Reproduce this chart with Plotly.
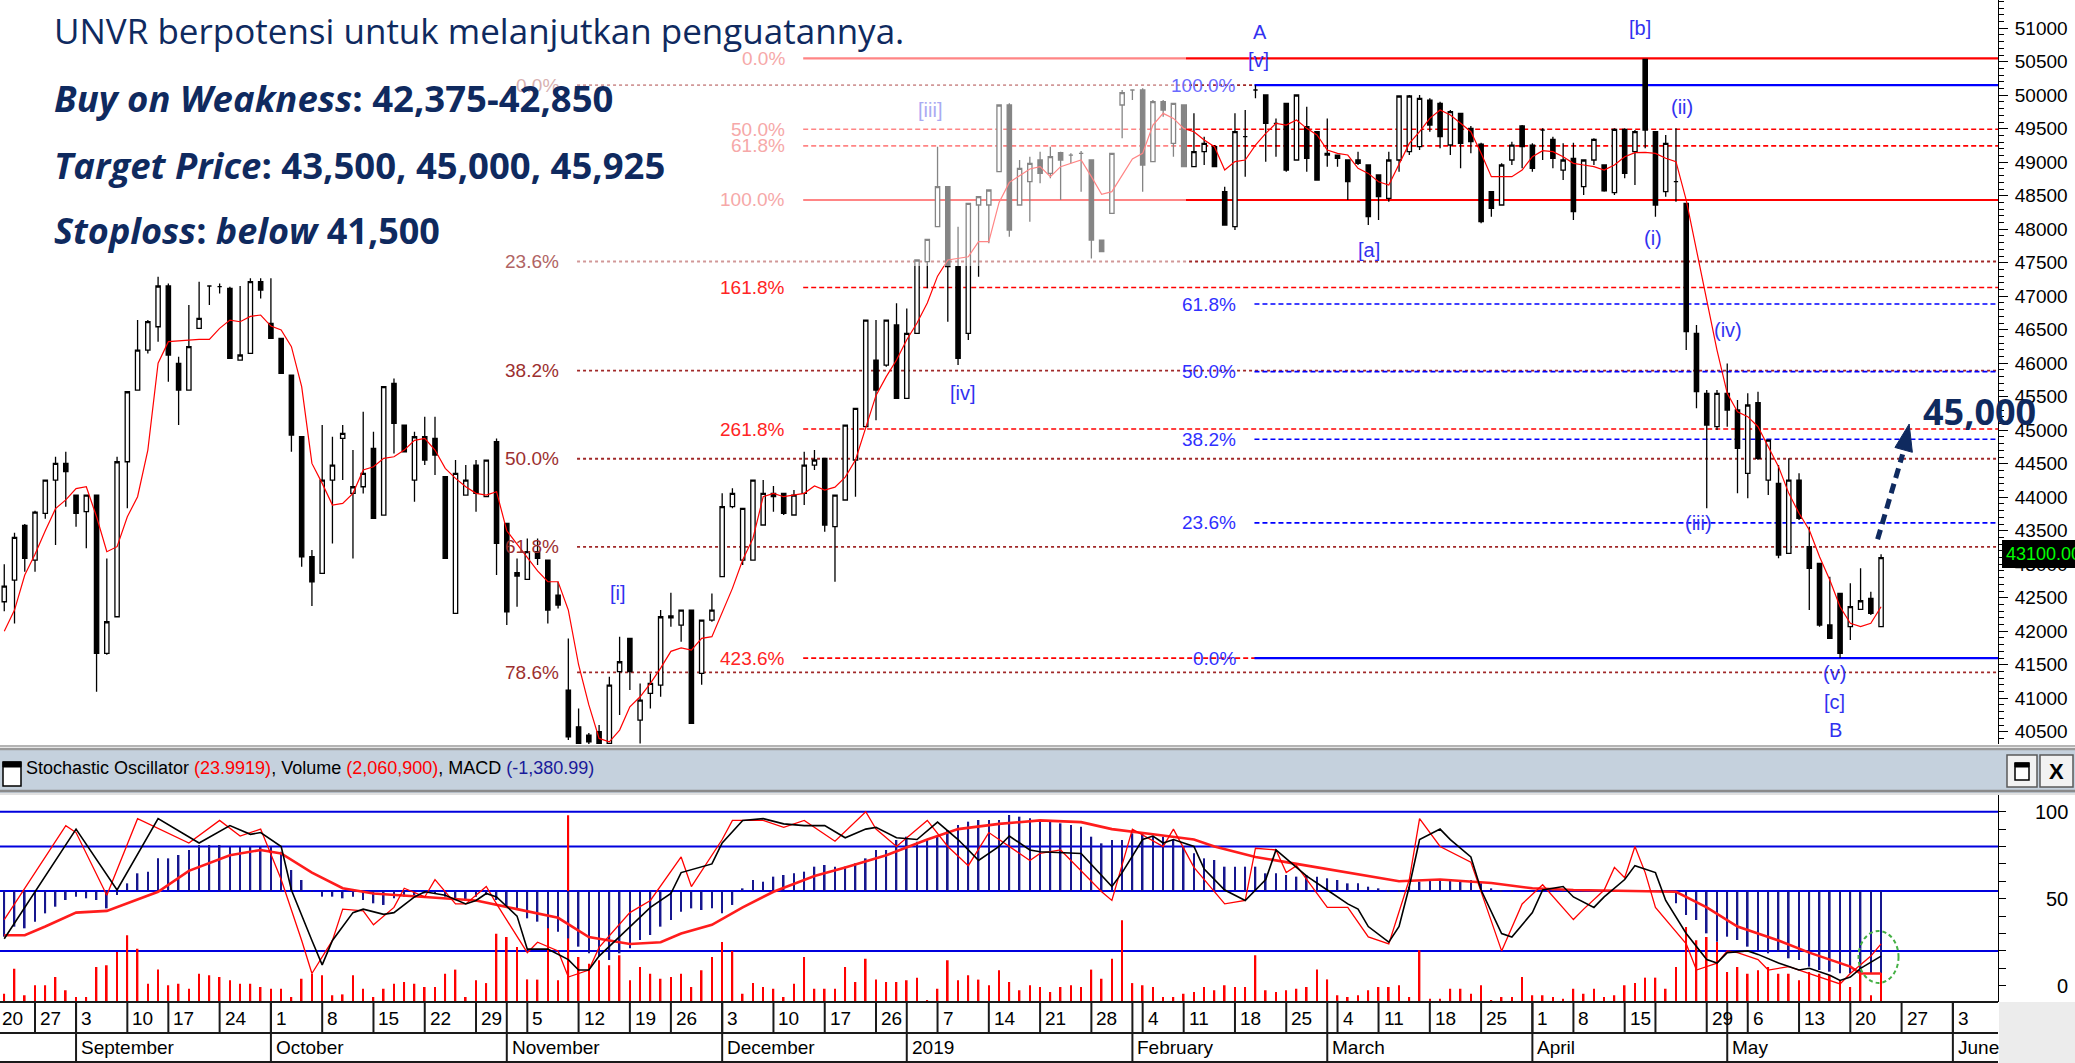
import plotly.graph_objects as go

W, H = 2075, 1063
def fx(px): return px / W
def fy(py): return 1 - py / H

NAVY = "#0f2a5f"
NARROW = "Liberation Sans Narrow, Arial Narrow, Liberation Sans, Arial"
SANS = "Liberation Sans, Arial"
TXT = "Open Sans, Noto Sans, sans-serif"

# ---------------- data (trading-day index 1..184) ----------------
days = list(range(1, 185))
opens = [42440, 42764, 43580, 43062, 43759, 44256, 44505, 44033, 43784, 44033,
         41669, 42216, 44530, 45600, 46197, 46545, 47153, 45998, 45600, 46520,
         47153, 47143, 47118, 46048, 46148, 47217, 46595, 46371, 45824, 44903,
         43112, 42864, 44256, 44878, 44057, 44157, 44729, 43734, 45700, 45078,
         44256, 44903, 44878, 44306, 42266, 44033, 44480, 44008, 44829, 43610,
         42873, 42774, 43187, 43062, 42540, 41122, 40574, 40450, 40500, 40325,
         41396, 41893, 40674, 41072, 41196, 42200, 42092, 42316, 41371, 42167,
         42814, 43859, 43063, 43063, 43586, 44058, 44058, 43735, 44058, 44481,
         44581, 43561, 43959, 44556, 45053, 46048, 45973, 46571, 45476, 46446,
         47516, 48038, 48635, 47441, 46446, 48362, 48362, 48859, 49855, 48362,
         48710, 49034, 48835, 49143, 49108, 49133, 49034, 47839, 48237, 49855,
         50079, 50079, 49009, 49904, 49282, 49855, 48934, 49158, 49233, 48561,
         48038, 49382, 50079, 50004, 49581, 49880, 49034, 49531, 49456, 49133,
         49108, 49034, 49034, 48959, 48810, 48461, 49034, 49158, 49233, 49929,
         49880, 49258, 49730, 49506, 49272, 48561, 48362, 49034, 49541, 49257,
         49481, 49342, 48884, 49059, 48635, 49034, 48959, 48546, 49491, 49158,
         50537, 49456, 48561, 48710, 48387, 46446, 45551, 45053, 45551, 45302,
         44357, 45412, 44257, 44207, 43163, 44257, 43262, 43013, 42093, 42565,
         42068, 42326, 42491, 42068]
highs = [43000, 43470, 43600, 43800, 44260, 44605, 44680, 44040, 44040, 44040,
         43087, 44605, 45575, 46645, 46645, 47292, 47192, 46098, 46869, 47217,
         47153, 47192, 47143, 47153, 47267, 47267, 47267, 46371, 45824, 44903,
         43212, 45078, 44903, 45078, 44704, 45277, 44978, 45650, 45774, 45078,
         44978, 45202, 45202, 44306, 44555, 44480, 44555, 44555, 44878, 43610,
         43087, 43386, 43386, 43062, 42739, 41893, 40848, 40480, 40600, 41320,
         41918, 41893, 41221, 41370, 42316, 42575, 42316, 42316, 42167, 42565,
         44058, 44133, 43834, 44257, 44257, 44168, 44058, 44108, 44680, 44705,
         44581, 44033, 45078, 45327, 46645, 46645, 46645, 46894, 46819, 47541,
         47849, 49233, 48635, 48038, 48386, 48486, 48586, 49855, 49880, 49034,
         49083, 49158, 49233, 49158, 49133, 49170, 49034, 47839, 49133, 50079,
         50079, 50103, 49929, 49929, 49880, 49855, 49730, 49382, 49258, 48635,
         49730, 49780, 50150, 50004, 49655, 49880, 50004, 49830, 49456, 49655,
         49108, 49034, 49158, 48959, 48810, 49158, 49989, 50004, 50004, 49954,
         49905, 49780, 49730, 49541, 49292, 48561, 48984, 49307, 49556, 49282,
         49506, 49382, 49282, 49292, 49043, 49357, 48959, 49506, 49506, 49481,
         50537, 49456, 49407, 49506, 48387, 46570, 45600, 45600, 45998, 45451,
         45551, 45576, 44854, 44481, 44581, 44357, 43561, 43013, 42814, 42565,
         42715, 42939, 42590, 43150]
lows = [42300, 42117, 42888, 42888, 43680, 43286, 43858, 43560, 43237, 41097,
        41650, 42216, 43834, 45600, 46147, 46322, 45724, 45078, 45600, 46520,
        46869, 47043, 46073, 46048, 46148, 46968, 46371, 45849, 44679, 42963,
        42376, 42864, 43311, 44256, 43087, 44057, 43685, 43734, 44654, 44679,
        43933, 44480, 44331, 43087, 42266, 44033, 43784, 44008, 42839, 42092,
        42366, 42774, 42988, 42117, 42341, 40375, 40325, 40250, 40250, 40300,
        40749, 41122, 40325, 40848, 41022, 42067, 41843, 40624, 41200, 42142,
        42814, 43834, 42988, 43063, 43586, 43784, 43735, 43735, 43884, 44406,
        43486, 42740, 43959, 44008, 45053, 45150, 45948, 45476, 45476, 46446,
        47118, 48038, 46620, 45973, 46346, 47292, 47790, 48859, 47889, 48362,
        48113, 48685, 48760, 48436, 48984, 48561, 47565, 47665, 48237, 49357,
        49929, 48561, 49009, 49680, 49083, 48934, 48934, 48959, 48934, 48063,
        47989, 48785, 49954, 49009, 49083, 48859, 49034, 48859, 48735, 48934,
        48934, 48436, 48959, 48063, 48138, 48411, 48859, 49108, 49183, 49456,
        49208, 49108, 48909, 49133, 48088, 48188, 48362, 48959, 48909, 48860,
        49034, 48909, 48735, 48138, 48511, 48959, 48561, 48511, 48760, 48660,
        49208, 48188, 48486, 48411, 46197, 45327, 43834, 45003, 45053, 44058,
        43984, 44556, 44033, 43088, 43163, 43660, 42317, 42068, 41894, 41600,
        41869, 42316, 42242, 42068]
closes = [42674, 43401, 43087, 43779, 44256, 44505, 44381, 43759, 44033, 41669,
          42142, 44530, 45575, 46197, 46620, 47153, 46123, 45600, 46247, 46670,
          47153, 47143, 46073, 46123, 47217, 47093, 46371, 45849, 44928, 43112,
          42739, 44256, 44480, 44953, 44157, 44356, 43685, 45650, 45103, 44679,
          44903, 44555, 44630, 43087, 44356, 44256, 44057, 44555, 43311, 42291,
          42824, 43187, 43087, 42316, 42391, 40425, 40325, 40350, 40300, 41196,
          41545, 41396, 40973, 41221, 42216, 42230, 42316, 40624, 42167, 42316,
          43859, 44058, 43834, 44257, 44058, 44008, 43759, 44033, 44481, 44556,
          43586, 44033, 45078, 45327, 46645, 45600, 46645, 45476, 46446, 47541,
          47849, 48635, 47441, 46073, 48386, 48486, 48586, 49855, 47989, 48909,
          48984, 48835, 49083, 49034, 49108, 49133, 47839, 47665, 49133, 50039,
          50079, 48959, 49904, 49780, 49880, 48934, 49158, 49282, 48934, 48063,
          49456, 49382, 50079, 49581, 49581, 48884, 50004, 49059, 48735, 49108,
          49059, 48710, 48984, 48188, 48486, 49034, 49989, 49989, 49954, 49556,
          49382, 49755, 49282, 49307, 48113, 48312, 48959, 49257, 49233, 48909,
          49481, 49059, 49034, 48262, 49034, 49342, 48575, 49491, 48835, 49456,
          49481, 48362, 49282, 48710, 46471, 45576, 45078, 45551, 45302, 44730,
          45377, 44581, 44854, 43138, 44257, 43685, 42939, 42093, 41894, 41670,
          42366, 42455, 42267, 43100]

ma_values = [42000, 42316, 42839, 43150, 43500, 43830, 43960, 44130, 44157, 43709,
             43187, 43262, 43709, 44008, 44704, 46000, 46322, 46337, 46350, 46357,
             46357, 46521, 46645, 46620, 46700, 46720, 46555, 46496, 46247, 45650,
             44505, 44207, 43883, 43908, 44058, 44406, 44456, 44580, 44605, 44704,
             44850, 44878, 44704, 44431, 44281, 44157, 44058, 44033, 44083, 43500,
             43300, 43100, 42900, 42739, 42739, 42316, 41500, 40900, 40400, 40350,
             40525, 40873, 41022, 41221, 41450, 41700, 41750, 41719, 41893, 41919,
             42267, 42640, 43063, 43386, 44008, 44058, 44008, 44033, 44058, 44168,
             44108, 44150, 44300, 44556, 45028, 45520, 45800, 46048, 46350, 46600,
             46900, 47300, 47541, 47560, 47590, 47814, 47814, 48400, 48700, 48800,
             48900, 48934, 48785, 48934, 48984, 49034, 48785, 48520, 48561, 48800,
             49050, 49133, 49556, 49730, 49655, 49506, 49456, 49332, 49233, 48884,
             49009, 49034, 49257, 49432, 49581, 49556, 49631, 49506, 49407, 49183,
             49133, 49108, 48909, 48834, 48710, 48660, 48984, 49282, 49456, 49656,
             49780, 49705, 49581, 49456, 49133, 48785, 48785, 48785, 48884, 49083,
             49173, 49158, 49083, 48984, 48959, 48934, 48884, 48959, 49083, 49143,
             49148, 49133, 49059, 49009, 48436, 47690, 46944, 46197, 45551, 45277,
             45203, 45053, 44755, 44456, 44058, 43760, 43511, 43113, 42764, 42366,
             42118, 42068, 42118, 42366]

volume_k = [380, 1530, 310, 770, 770, 1150, 540, 230, 230, 1610,
            1690, 2300, 3070, 2450, 840, 1490, 770, 840, 610, 1300,
            1230, 1150, 1000, 840, 840, 690, 610, 610, 230, 1070,
            1300, 1230, 310, 350, 1230, 610, 230, 610, 840, 920,
            840, 690, 690, 1300, 1490, 230, 1000, 870, 3140, 2990,
            2530, 1040, 1030, 3600, 1000, 8590, 2070, 1760, 1920, 1690,
            2150, 1000, 1610, 1300, 1070, 1150, 1300, 690, 1460, 2070,
            2760, 2350, 380, 870, 690, 610, 230, 840, 2070, 610,
            610, 610, 1610, 920, 1990, 1030, 920, 920, 1000, 1120,
            80, 610, 1920, 1000, 1230, 1030, 770, 1460, 920, 540,
            770, 690, 460, 690, 770, 690, 1490, 1070, 1990, 3760,
            870, 770, 690, 230, 230, 380, 460, 690, 540, 770,
            690, 690, 2150, 540, 460, 540, 610, 690, 1490, 1040,
            310, 230, 310, 540, 690, 690, 770, 230, 2380, 150,
            150, 610, 610, 380, 770, 50, 230, 230, 1150, 310,
            310, 230, 150, 610, 380, 610, 230, 310, 770, 870,
            1120, 1120, 610, 1610, 3450, 2840, 2990, 2760, 1380, 1610,
            1300, 1460, 1610, 1300, 1300, 1000, 1380, 1300, 1230, 1000,
            690, 1300, 310, 2061]

macd = [-769, -600, -628, -516, -376, -264, -151, -95, -123, -151,
        -292, -67, 129, 298, 326, 550, 550, 607, 691, 775,
        775, 775, 747, 747, 747, 747, 747, 663, 354, 186,
        -11, -95, -95, -123, -95, -151, -207, -235, -123, -95,
        -67, -39, -39, -95, -123, -151, -95, -67, -151, -264,
        -320, -460, -516, -628, -684, -797, -937, -1049, -1105, -1162,
        -1049, -965, -825, -741, -600, -488, -348, -292, -320, -292,
        -376, -235, 45, 186, 157, 242, 270, 298, 326, 410,
        438, 410, 410, 466, 550, 691, 691, 859, 915, 831,
        859, 915, 1028, 1112, 1168, 1196, 1196, 1196, 1280, 1252,
        1224, 1196, 1168, 1140, 1112, 1084, 915, 803, 859, 859,
        971, 971, 915, 915, 859, 747, 635, 550, 522, 410,
        410, 410, 410, 298, 298, 270, 242, 270, 242, 214,
        186, 129, 129, 73, 45, 17, 17, 73, 157, 186,
        186, 186, 186, 186, 129, 45, 10, 5, 0, -5,
        5, 10, 15, 20, 10, 5, 0, 5, 10, 5,
        0, -5, -10, -207, -404, -488, -713, -853, -769, -825,
        -937, -993, -1049, -1021, -1133, -1162, -1274, -1330, -1358, -1386,
        -1386, -1386, -1386, -1381]

stoch_k_x = [1, 7, 8, 11, 14, 19, 22, 24, 26, 28, 30, 31, 33, 34, 36, 37, 39, 40, 42, 43,
             45, 46, 48, 49, 52, 53, 55, 56, 58, 59, 62, 64, 67, 68, 71, 72, 75, 77, 79, 82,
             85, 86, 88, 91, 93, 95, 97, 101, 102, 104, 108, 109, 111, 114, 115, 117, 120, 122, 123, 125,
             126, 127, 130, 132, 134, 136, 138, 139, 141, 144, 147, 149, 151, 154, 155, 157, 158, 159, 160, 161,
             162, 165, 166, 168, 169, 170, 172, 173, 175, 177, 179, 180, 181, 183, 184]
stoch_k = [38, 92, 88, 52, 96, 82, 95, 86, 90, 61, 26, 7, 26, 44, 43, 35, 45, 56, 51, 61,
           47, 47, 57, 47, 19, 25, 20, 5, 9, 22, 42, 49, 74, 57, 84, 95, 95, 91, 95, 83,
           100, 90, 80, 95, 80, 69, 88, 72, 76, 78, 54, 49, 90, 80, 90, 68, 47, 49, 79, 78,
           65, 69, 45, 45, 28, 24, 61, 96, 80, 71, 20, 47, 58, 38, 44, 55, 68, 62, 80, 65,
           45, 24, 9, 13, 20, 19, 15, 9, 11, 7, 3, 1, 7, 17, 24]
stoch_d_x = [1, 8, 12, 16, 20, 23, 25, 26, 28, 29, 31, 32, 33, 35, 36, 38, 39, 41, 42, 44,
             46, 47, 48, 49, 51, 52, 54, 56, 57, 58, 59, 62, 64, 66, 67, 70, 71, 73, 75, 77,
             79, 81, 83, 85, 86, 88, 90, 92, 94, 96, 98, 99, 101, 102, 106, 109, 110, 112, 113, 114,
             115, 117, 118, 120, 122, 124, 125, 127, 128, 130, 132, 133, 134, 136, 137, 138, 139, 141, 142, 144,
             145, 147, 148, 150, 151, 153, 154, 156, 157, 159, 160, 162, 163, 165, 167, 168, 169, 171, 172, 174,
             176, 177, 179, 180, 181, 182, 184]
stoch_d = [27, 90, 55, 96, 82, 92, 87, 88, 80, 55, 26, 12, 26, 42, 44, 41, 42, 51, 54, 52,
           47, 49, 53, 51, 40, 21, 21, 15, 9, 9, 17, 34, 45, 53, 65, 70, 82, 95, 96, 93,
           92, 92, 85, 90, 91, 85, 84, 94, 84, 72, 80, 86, 78, 77, 76, 57, 65, 84, 86, 82,
           84, 80, 67, 55, 49, 61, 78, 68, 63, 55, 47, 44, 34, 25, 34, 57, 84, 90, 84, 74,
           55, 30, 28, 42, 55, 57, 51, 45, 51, 61, 69, 65, 49, 30, 15, 13, 19, 20, 18, 13,
           9, 10, 6, 3, 5, 10, 17]
slow_x = [1, 3, 5, 8, 11, 16, 19, 23, 26, 28, 31, 34, 37, 42, 47, 51, 55, 58, 62, 65,
          67, 70, 73, 76, 80, 83, 87, 91, 94, 98, 102, 106, 109, 113, 117, 119, 123, 127, 130, 134,
          137, 141, 146, 150, 154, 164, 167, 170, 174, 177, 181, 182, 184]
slow_v = [29, 29, 34, 42, 43, 54, 66, 75, 78, 76, 65, 56, 53, 51, 49, 44, 39, 28, 24, 25,
          30, 35, 45, 54, 63, 68, 75, 84, 90, 93, 95, 94, 90, 87, 84, 80, 74, 70, 67, 63,
          60, 61, 59, 56, 55, 54, 45, 34, 26, 19, 11, 7, 7]

day_tick_idx = [0, 4, 8, 13, 17, 22, 27, 32, 37, 42, 47, 52, 57, 62, 66, 71, 76, 81, 86, 92,
                97, 102, 107, 112, 116, 121, 126, 131, 135, 140, 145, 150, 154, 159, 162, 167,
                171, 176, 181, 186, 191]
day_tick_text = ["20", "27", "3", "10", "17", "24", "1", "8", "15", "22", "29", "5", "12", "19", "26",
                 "3", "10", "17", "26", "7", "14", "21", "28", "4", "11", "18", "25", "4", "11", "18",
                 "25", "1", "8", "15", "", "29", "6", "13", "20", "27", "3"]
month_idx = [8, 27, 50, 71, 89, 111, 130, 150, 169, 191]
month_text = ["September", "October", "November", "December", "2019", "February", "March",
              "April", "May", "June"]

maroon_levels = [50150, 47519, 45891, 44575, 43259, 41386]
maroon_labels = ["0.0%", "23.6%", "38.2%", "50.0%", "61.8%", "78.6%"]
red_levels = [50550, 49493, 49244, 48437, 47131, 45018, 41599]
red_labels = ["0.0%", "50.0%", "61.8%", "100.0%", "161.8%", "261.8%", "423.6%"]
blue_levels = [50150, 46884, 45875, 44866, 43618, 41600]
blue_labels = ["100.0%", "61.8%", "50.0%", "38.2%", "23.6%", "0.0%"]

wave_text = ["A", "[v]", "[iii]", "[iv]", "[i]", "[a]", "[b]", "(ii)", "(i)", "(iv)",
             "(iii)", "(v)", "[c]", "B"]
wave_x = [123.4, 123.3, 91.3, 94.5, 60.8, 134.1, 160.5, 164.6, 161.8, 169.1,
          166.2, 179.5, 179.5, 179.6]
wave_y = [50950, 50527, 49779, 45555, 42570, 47690, 51000, 49830, 47865, 46497,
          43611, 41371, 40947, 40525]

XR = [0.585, 195.4]
XDOM = [0, 1998 / W]

# ---------------- traces ----------------
fig = go.Figure()
fig.add_trace(go.Candlestick(
    x=days, open=opens, high=highs, low=lows, close=closes,
    increasing=dict(line=dict(color="black", width=1.3), fillcolor="white"),
    decreasing=dict(line=dict(color="black", width=1.3), fillcolor="black"),
    whiskerwidth=0, xaxis="x", yaxis="y", hoverinfo="skip"))
fig.add_trace(go.Scatter(x=days, y=ma_values, mode="lines",
                         line=dict(color="#ff0000", width=1.2), xaxis="x", yaxis="y", hoverinfo="skip"))
fig.add_trace(go.Bar(x=days, y=volume_k, width=0.16, marker=dict(color="#ff0000", line=dict(width=0)),
                     xaxis="x2", yaxis="y3", hoverinfo="skip"))
fig.add_trace(go.Bar(x=days, y=macd, width=0.16, marker=dict(color="#16168e", line=dict(width=0)),
                     xaxis="x2", yaxis="y4", hoverinfo="skip"))
fig.add_trace(go.Scatter(x=slow_x, y=slow_v, mode="lines", line=dict(color="#ff1c1c", width=2.6),
                         xaxis="x2", yaxis="y5", hoverinfo="skip"))
fig.add_trace(go.Scatter(x=stoch_k_x, y=stoch_k, mode="lines", line=dict(color="#ff0000", width=1.3),
                         xaxis="x2", yaxis="y5", hoverinfo="skip"))
fig.add_trace(go.Scatter(x=stoch_d_x, y=stoch_d, mode="lines", line=dict(color="#000000", width=1.6),
                         xaxis="x2", yaxis="y5", hoverinfo="skip"))

# ---------------- shapes ----------------
shapes = []
def line(x0, y0, x1, y1, color, width=1.5, dash=None, xref="paper", yref="paper", layer="above"):
    d = dict(type="line", x0=x0, y0=y0, x1=x1, y1=y1, xref=xref, yref=yref, layer=layer,
             line=dict(color=color, width=width))
    if dash:
        d["line"]["dash"] = dash
    shapes.append(d)

def rect(x0, y0, x1, y1, fill, lc=None, lw=0, xref="paper", yref="paper", layer="above"):
    shapes.append(dict(type="rect", x0=x0, y0=y0, x1=x1, y1=y1, xref=xref, yref=yref, layer=layer,
                       fillcolor=fill, line=dict(color=lc or fill, width=lw)))

for lv in maroon_levels:
    line(56.85, lv, XR[1], lv, "#a02828", 1.8, "3px,3px", "x", "y", "below")
for lv, lab in zip(red_levels, red_labels):
    solid = lab in ("0.0%", "100.0%")
    line(78.9, lv, XR[1], lv, "#ff0000", 2.2 if solid else 1.6, None if solid else "5px,3px", "x", "y", "below")
for lv, lab in zip(blue_levels, blue_labels):
    solid = lab in ("0.0%", "100.0%")
    line(122.9, lv, XR[1], lv, "#0000ff", 2.2 if solid else 1.6, None if solid else "5px,3px", "x", "y", "below")

# fade box over top-left region
rect(0, fy(266), fx(1186), 1, "rgba(255,255,255,0.52)")

# main chart bottom border
line(0, fy(746), 1, fy(746), "#b4b4b4", 2)
# header bar
rect(0, fy(793), 1, fy(748), "#c5d1dd")
line(0, fy(749), 1, fy(749), "#9a9a9a", 2.5)
line(0, fy(791), 1, fy(791), "#8a8a8a", 2.5)
line(0, fy(794), 1, fy(794), "#d6d6d6", 1.5)
# header icon
rect(fx(3), fy(786), fx(21), fy(762), "white", "black", 1.5)
rect(fx(3), fy(767), fx(21), fy(762), "black", "black", 1)
# buttons
rect(fx(2007), fy(787), fx(2037), fy(755), "#f2f2f2", "#5a5a5a", 1.5)
rect(fx(2015), fy(780), fx(2029), fy(763), "white", "black", 1.5)
rect(fx(2015), fy(767), fx(2029), fy(763), "black", "black", 1)
rect(fx(2040), fy(787), fx(2073), fy(755), "#f2f2f2", "#5a5a5a", 1.5)

# lower panel reference lines
for v in (100, 80, 20):
    line(XR[0], v, XR[1], v, "#0000dd", 2, None, "x2", "y2", "below")
line(XR[0], 0, XR[1], 0, "#0000dd", 2, None, "x2", "y4", "below")

# green dashed ellipse
shapes.append(dict(type="circle", xref="x2", yref="y5", x0=181.8, x1=185.7, y0=1.6, y1=31.4,
                   line=dict(color="#44b044", width=2, dash="4px,3px"), layer="above"))

# dashed forecast arrow
line(183.66, 43372, 186.1, 44640, NAVY, 5, "10px,6px", "x", "y", "above")
shapes.append(dict(type="path", xref="x", yref="y", layer="above",
                   path="M 186.74 45093 L 187.05 44671 L 185.35 44743 Z",
                   fillcolor=NAVY, line=dict(color=NAVY, width=1)))

# date rows
rect(fx(1999), 0, 1, fy(1002), "#ececec")
line(0, fy(1002), fx(1998), fy(1002), "#1a1a1a", 2)
line(0, fy(1033), fx(1998), fy(1033), "#1a1a1a", 2)
line(0, fy(1062), fx(1998), fy(1062), "#1a1a1a", 2)
for i in day_tick_idx:
    line(i, fy(1002), i, fy(1033), "#1a1a1a", 2, None, "x2", "paper", "above")
for i in month_idx:
    line(i, fy(1002), i, fy(1063), "#1a1a1a", 2, None, "x2", "paper", "above")

# last price box
rect(fx(2002), fy(568), 1, fy(540), "black")

# ---------------- annotations ----------------
ann = []
def text(t, x, y, size, color, family=NARROW, xref="paper", yref="paper", xanchor="left", yanchor="middle", **kw):
    d = dict(text=t, x=x, y=y, xref=xref, yref=yref, xanchor=xanchor, yanchor=yanchor, showarrow=False,
             font=dict(family=family, size=size, color=color))
    d.update(kw)
    ann.append(d)

maroon_cols = ["#d8b0b0", "#b06464", "#9c2f2f", "#9c2f2f", "#9c2f2f", "#9c2f2f"]
for lv, lab, c in zip(maroon_levels, maroon_labels, maroon_cols):
    text(lab, 55.3, lv, 19, c, xref="x", yref="y", xanchor="right")
for lv, lab in zip(red_levels, red_labels):
    c = "#f6a8a8" if lab in ("0.0%", "50.0%", "61.8%", "100.0%") else "#ff2424"
    text(lab, 77.3, lv, 19, c, xref="x", yref="y", xanchor="right")
for lv, lab in zip(blue_levels, blue_labels):
    c = "#6a6aff" if lab == "100.0%" else "#3030ff"
    text(lab, 121.3, lv, 19, c, xref="x", yref="y", xanchor="right")

for t, x, y in zip(wave_text, wave_x, wave_y):
    c = "#aaaaf2" if t == "[iii]" else "#3232f0"
    text(t, x, y, 20, c, xref="x", yref="y", xanchor="center")

for i, t in zip(day_tick_idx, day_tick_text):
    if t:
        text(t, max(i, 0.6), fy(1018), 19, "black", xref="x2", xshift=3 if i > 0 else 0)
for i, t in zip(month_idx, month_text):
    text(t, i, fy(1047), 19, "black", xref="x2", xshift=3)

for v in (100, 50, 0):
    text(str(v), fx(2070), v, 20, "black", yref="y2", xanchor="right")

text("Stochastic Oscillator <span style='color:#ff0000'>(23.9919)</span>, Volume "
     "<span style='color:#ff0000'>(2,060,900)</span>, MACD <span style='color:#1a1a9a'>(-1,380.99)</span>",
     fx(24), fy(768), 18, "black")
text("<b>X</b>", fx(2056.5), fy(771), 22, "black", xanchor="center")

text("43100.00", fx(2004), fy(554), 18, "#00ff00")
text("<b>45,000</b>", fx(1921), fy(411), 36, NAVY, family=TXT)

text("UNVR berpotensi untuk melanjutkan penguatannya.", fx(52), fy(31), 35, NAVY, family=TXT)
text("<b><i>Buy on Weakness</i>: 42,375-42,850</b>", fx(52), fy(98), 36.5, NAVY, family=TXT)
text("<b><i>Target Price</i>: 43,500, 45,000, 45,925</b>", fx(52), fy(165), 36.5, NAVY, family=TXT)
text("<b><i>Stoploss</i>: <i>below</i> 41,500</b>", fx(52), fy(230), 36, NAVY, family=TXT)

# ---------------- layout ----------------
fig.update_layout(
    width=W, height=H, margin=dict(l=0, r=0, t=0, b=0),
    paper_bgcolor="white", plot_bgcolor="white", showlegend=False,
    barmode="overlay", boxgap=0.4, hovermode=False,
    xaxis=dict(domain=XDOM, range=XR, visible=False, anchor="y", rangeslider=dict(visible=False)),
    yaxis=dict(domain=[1 - 744 / H, 1], range=[40317, 51422], side="right", anchor="x",
               showgrid=False, zeroline=False, showline=True, linecolor="black", linewidth=1,
               ticks="outside", ticklen=9, tickcolor="black", tick0=0, dtick=500, tickformat="d",
               tickfont=dict(family=SANS, size=19, color="black"), ticklabelstandoff=3,
               minor=dict(dtick=100, ticklen=5, ticks="outside", tickcolor="black", showgrid=False)),
    xaxis2=dict(domain=XDOM, range=XR, visible=False, anchor="y2"),
    yaxis2=dict(domain=[1 - 1002 / H, 1 - 795 / H], range=[-9.37, 109.6], side="right", anchor="x2",
                showgrid=False, zeroline=False, showline=True, linecolor="black", linewidth=1,
                ticks="outside", tick0=0, dtick=10, ticklen=7, tickcolor="black", showticklabels=False),
    yaxis3=dict(overlaying="y2", range=[0, 9522], visible=False, anchor="x2"),
    yaxis4=dict(overlaying="y2", range=[-1869, 1617], visible=False, anchor="x2"),
    yaxis5=dict(overlaying="y2", range=[-9.37, 109.6], visible=False, anchor="x2"),
    shapes=shapes, annotations=ann,
)

fig.write_html("out.html", config={"displayModeBar": False},
               post_script="document.body.style.margin='0';document.body.style.overflow='hidden';")
